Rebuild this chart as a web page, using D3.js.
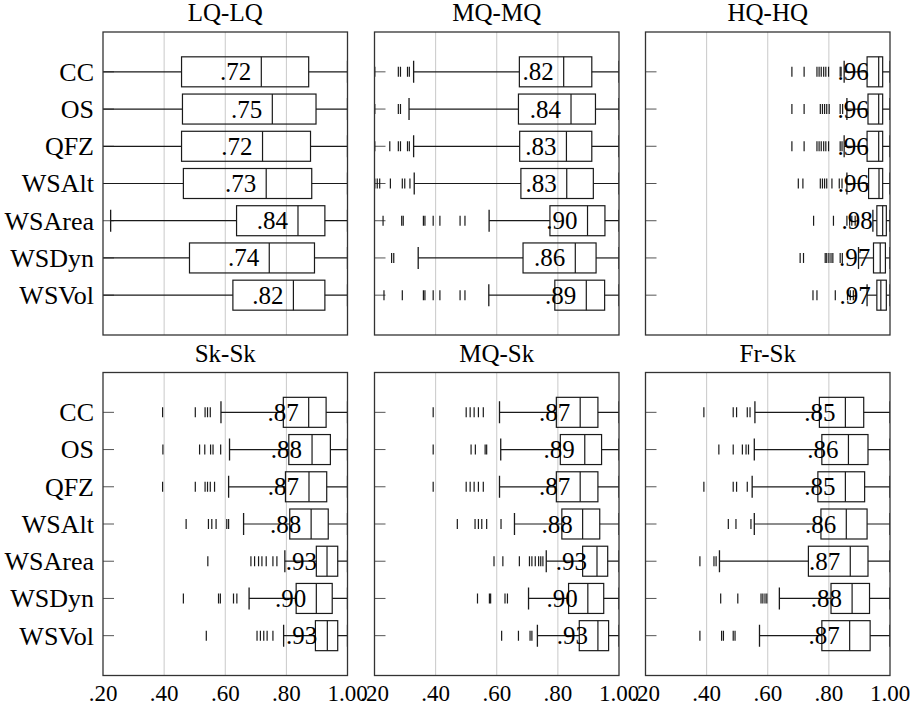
<!DOCTYPE html>
<html>
<head>
<meta charset="utf-8">
<script src="https://cdn.jsdelivr.net/npm/d3@7"></script>
</head>
<body style="margin:0; background:#fff">
<div class="chart"></div>
<script>
const methods = ["CC", "OS", "QFZ", "WSAlt", "WSArea", "WSDyn", "WSVol"];
const panelTitles = ["LQ-LQ", "MQ-MQ", "HQ-HQ", "Sk-Sk", "MQ-Sk", "Fr-Sk"];
const xTicks = [0.2, 0.4, 0.6, 0.8, 1.0];

// [lower whisker, q1, median, q3, upper whisker] per method
const lqlqStats = [
    [0.10, 0.457, 0.718, 0.873, 1.0],
    [0.10, 0.460, 0.754, 0.897, 1.0],
    [0.10, 0.457, 0.722, 0.879, 1.0],
    [0.10, 0.463, 0.734, 0.883, 1.0],
    [0.225, 0.637, 0.838, 0.926, 1.0],
    [0.10, 0.483, 0.744, 0.892, 1.0],
    [0.10, 0.625, 0.823, 0.926, 1.0]
];
const lqlqOutliers = [[], [], [], [], [], [], []];

const mqmqStats = [
    [0.328, 0.674, 0.819, 0.911, 1.0],
    [0.313, 0.671, 0.843, 0.923, 1.0],
    [0.328, 0.675, 0.828, 0.911, 1.0],
    [0.330, 0.679, 0.829, 0.916, 1.0],
    [0.575, 0.774, 0.897, 0.954, 1.0],
    [0.343, 0.686, 0.857, 0.925, 1.0],
    [0.574, 0.790, 0.893, 0.953, 1.0]
];
const mqmqOutliers = [
    [0.201, 0.278, 0.285, 0.308, 0.314],
    [0.201, 0.278, 0.285],
    [0.201, 0.250, 0.278, 0.285, 0.308, 0.314],
    [0.201, 0.209, 0.217, 0.252, 0.291, 0.299, 0.316],
    [0.228, 0.289, 0.294, 0.360, 0.365, 0.392, 0.414, 0.480, 0.496],
    [0.256, 0.263],
    [0.231, 0.291, 0.360, 0.365, 0.392, 0.414, 0.480, 0.496]
];

const hqhqStats = [
    [0.850, 0.925, 0.963, 0.976, 1.0],
    [0.859, 0.928, 0.963, 0.976, 1.0],
    [0.850, 0.925, 0.963, 0.976, 1.0],
    [0.859, 0.930, 0.964, 0.976, 1.0],
    [0.944, 0.957, 0.976, 0.988, 1.0],
    [0.897, 0.946, 0.968, 0.985, 1.0],
    [0.925, 0.957, 0.970, 0.988, 1.0]
];
const hqhqOutliers = [
    [0.679, 0.719, 0.761, 0.768, 0.775, 0.783, 0.790, 0.799, 0.837, 0.840],
    [0.679, 0.719, 0.772, 0.779, 0.786, 0.793, 0.801, 0.837, 0.845],
    [0.679, 0.719, 0.761, 0.768, 0.775, 0.783, 0.790, 0.799, 0.837, 0.843],
    [0.700, 0.715, 0.772, 0.779, 0.786, 0.793, 0.810, 0.834, 0.843],
    [0.750, 0.815, 0.859, 0.868, 0.875, 0.886],
    [0.706, 0.717, 0.788, 0.793, 0.800, 0.807, 0.813, 0.837, 0.844],
    [0.748, 0.761, 0.821, 0.861, 0.870, 0.880]
];

const skskStats = [
    [0.586, 0.790, 0.873, 0.930, 1.0],
    [0.614, 0.808, 0.884, 0.944, 1.0],
    [0.611, 0.797, 0.874, 0.932, 1.0],
    [0.660, 0.811, 0.881, 0.937, 1.0],
    [0.795, 0.898, 0.933, 0.968, 1.0],
    [0.678, 0.832, 0.898, 0.950, 1.0],
    [0.791, 0.895, 0.934, 0.968, 1.0]
];
const skskOutliers = [
    [0.395, 0.502, 0.534, 0.542, 0.551],
    [0.396, 0.516, 0.533, 0.552, 0.560, 0.585],
    [0.395, 0.502, 0.534, 0.542, 0.551, 0.565],
    [0.472, 0.545, 0.556, 0.570, 0.605, 0.611],
    [0.543, 0.684, 0.696, 0.709, 0.720, 0.734, 0.756, 0.769],
    [0.463, 0.578, 0.584, 0.627, 0.638],
    [0.538, 0.704, 0.715, 0.726, 0.737, 0.756]
];

const mqskStats = [
    [0.609, 0.795, 0.873, 0.931, 1.0],
    [0.613, 0.808, 0.888, 0.943, 1.0],
    [0.609, 0.795, 0.873, 0.931, 1.0],
    [0.658, 0.813, 0.881, 0.937, 1.0],
    [0.762, 0.881, 0.928, 0.963, 1.0],
    [0.704, 0.835, 0.898, 0.950, 1.0],
    [0.733, 0.870, 0.931, 0.966, 1.0]
];
const mqskOutliers = [
    [0.392, 0.500, 0.513, 0.526, 0.540, 0.556],
    [0.392, 0.516, 0.530, 0.562, 0.567],
    [0.392, 0.500, 0.513, 0.526, 0.540, 0.556],
    [0.471, 0.529, 0.540, 0.551, 0.567, 0.614],
    [0.591, 0.620, 0.674, 0.707, 0.715, 0.726, 0.737, 0.744, 0.751],
    [0.537, 0.576, 0.580, 0.627, 0.635],
    [0.616, 0.671, 0.709, 0.715]
];

const frskStats = [
    [0.558, 0.769, 0.854, 0.914, 1.0],
    [0.556, 0.777, 0.864, 0.928, 1.0],
    [0.549, 0.764, 0.854, 0.917, 1.0],
    [0.556, 0.774, 0.857, 0.925, 1.0],
    [0.442, 0.733, 0.870, 0.928, 1.0],
    [0.638, 0.807, 0.876, 0.933, 1.0],
    [0.573, 0.777, 0.868, 0.935, 1.0]
];
const frskOutliers = [
    [0.391, 0.487, 0.498, 0.533, 0.542],
    [0.440, 0.487, 0.517, 0.529, 0.537],
    [0.391, 0.487, 0.498, 0.533],
    [0.471, 0.496, 0.545],
    [0.378, 0.424, 0.431],
    [0.446, 0.502, 0.578, 0.584, 0.591, 0.597],
    [0.378, 0.449, 0.455, 0.487, 0.493]
];

const allStats = [lqlqStats, mqmqStats, hqhqStats, skskStats, mqskStats, frskStats];
const allOutliers = [lqlqOutliers, mqmqOutliers, hqhqOutliers, skskOutliers, mqskOutliers, frskOutliers];

const panelW = 244.5, panelH = 303;
const colX = [103, 374.5, 645.5];
const rowY = [32, 372.5];

const svg = d3.select(".chart")
    .append("svg")
        .attr("width", 917)
        .attr("height", 708);

const x = d3.scaleLinear().domain([0.2, 1.0]).range([0, panelW]);
const y = d3.scalePoint().domain(methods).range([0, panelH]).padding(1.07);

const fmt = v => v >= 1 ? "1.00" : d3.format(".2f")(v).replace(/^0/, "");

panelTitles.forEach((title, p) => {
    const col = p % 3, row = Math.floor(p / 3);
    const g = svg.append("g")
        .attr("transform", "translate(" + colX[col] + "," + rowY[row] + ")");

    g.append("clipPath").attr("id", "clip" + p)
        .append("rect").attr("width", panelW).attr("height", panelH);

    // grid
    g.selectAll(".grid")
        .data(xTicks.slice(1, -1))
        .enter()
        .append("line")
            .attr("x1", d => x(d)).attr("x2", d => x(d))
            .attr("y1", 0).attr("y2", panelH)
            .attr("stroke", "#c9c9c9").attr("stroke-width", 1);

    // y ticks inward on the left
    g.selectAll(".ytick")
        .data(methods)
        .enter()
        .append("line")
            .attr("x1", 0).attr("x2", 11)
            .attr("y1", d => y(d)).attr("y2", d => y(d))
            .attr("stroke", "#555").attr("stroke-width", 1);

    const plot = g.append("g").attr("clip-path", "url(#clip" + p + ")");
    const stats = allStats[p], outs = allOutliers[p];

    methods.forEach((m, i) => {
        const [lw, q1, med, q3, uw] = stats[i];
        const cy = y(m);
        const b = plot.append("g").attr("stroke", "#1a1a1a").attr("fill", "none");
        // whiskers
        b.append("line").attr("x1", x(lw)).attr("x2", x(q1)).attr("y1", cy).attr("y2", cy).attr("stroke-width", 1.2);
        b.append("line").attr("x1", x(q3)).attr("x2", x(uw)).attr("y1", cy).attr("y2", cy).attr("stroke-width", 1.2);
        b.append("line").attr("x1", x(lw)).attr("x2", x(lw)).attr("y1", cy - 11).attr("y2", cy + 11).attr("stroke-width", 1.3);
        b.append("line").attr("x1", x(uw)).attr("x2", x(uw)).attr("y1", cy - 11).attr("y2", cy + 11).attr("stroke-width", 1.3);
        // box
        b.append("rect")
            .attr("x", x(q1)).attr("y", cy - 15)
            .attr("width", x(q3) - x(q1)).attr("height", 30)
            .attr("stroke-width", 1.2);
        b.append("line").attr("x1", x(med)).attr("x2", x(med)).attr("y1", cy - 15).attr("y2", cy + 15).attr("stroke-width", 1.2);
        // outliers
        b.selectAll(".out")
            .data(outs[i])
            .enter()
            .append("line")
                .attr("x1", d => x(d)).attr("x2", d => x(d))
                .attr("y1", cy - 5).attr("y2", cy + 5)
                .attr("stroke-width", 1.2);
        // median label
        g.append("text")
            .attr("font-family", "Liberation Serif")
            .attr("font-size", 25)
            .attr("x", x(med) - 10)
            .attr("y", cy)
            .attr("dy", "0.34em")
            .attr("text-anchor", "end")
            .text(fmt(med));
    });

    // frame
    g.append("rect")
        .attr("width", panelW).attr("height", panelH)
        .attr("fill", "none").attr("stroke", "#333").attr("stroke-width", 1.3);

    // title
    g.append("text")
        .attr("font-family", "Liberation Serif")
        .attr("font-size", 25)
        .attr("x", panelW / 2).attr("y", -11)
        .attr("text-anchor", "middle")
        .text(title);

    if (col === 0) {
        g.selectAll(".ylab")
            .data(methods)
            .enter()
            .append("text")
                .attr("font-family", "Liberation Serif")
                .attr("font-size", 26)
                .attr("x", -9)
                .attr("y", d => y(d))
                .attr("dy", "0.34em")
                .attr("text-anchor", "end")
                .text(d => d);
    }

    if (row === 1) {
        g.selectAll(".xlab")
            .data(xTicks)
            .enter()
            .append("text")
                .attr("font-family", "Liberation Serif")
                .attr("font-size", 23)
                .attr("x", d => x(d))
                .attr("y", panelH + 25)
                .attr("text-anchor", "middle")
                .text(d => fmt(d));
    }
});
</script>
</body>
</html>
